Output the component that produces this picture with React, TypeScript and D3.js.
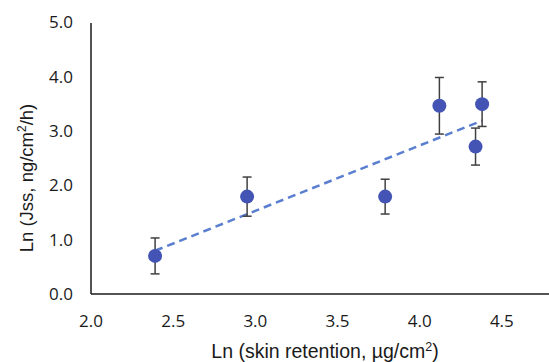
import { useEffect, useRef } from "react";
import * as d3 from "d3";

// data
const xValues = [2.39, 2.95, 3.79, 4.12, 4.38, 4.34];
const yValues = [0.7, 1.79, 1.79, 3.46, 3.49, 2.71];
const yErrors = [0.33, 0.36, 0.32, 0.52, 0.41, 0.34];
const xTicks = [2.0, 2.5, 3.0, 3.5, 4.0, 4.5];
const yTicks = [0.0, 1.0, 2.0, 3.0, 4.0, 5.0];

const ScatterChart = () => {
  const svgRef = useRef<SVGSVGElement>(null);

  useEffect(() => {
    if (!svgRef.current) return;

    const width = 549;

    const svg = d3.select(svgRef.current);
    svg.selectAll("*").remove();

    const x = d3.scaleLinear().domain([2, 5]).range([91, 584]);
    const y = d3.scaleLinear().domain([0, 5]).range([294, 22]);

    const points = xValues.map((v, i) => ({ x: v, y: yValues[i], e: yErrors[i] }));

    // y tick labels
    svg
      .append("g")
      .selectAll("text")
      .data(yTicks)
      .join("text")
      .attr("x", 73)
      .attr("y", (d) => y(d))
      .attr("dy", "0.36em")
      .attr("text-anchor", "end")
      .style("font", "17px 'Open Sans'")
      .attr("fill", "#1a1a1a")
      .text((d) => d.toFixed(1));

    // x tick labels
    svg
      .append("g")
      .selectAll("text")
      .data(xTicks)
      .join("text")
      .attr("x", (d) => x(d))
      .attr("y", 327)
      .attr("text-anchor", "middle")
      .style("font", "17px 'Open Sans'")
      .attr("fill", "#1a1a1a")
      .text((d) => d.toFixed(1));

    // axes lines
    svg
      .append("line")
      .attr("x1", x(2))
      .attr("x2", width)
      .attr("y1", y(0))
      .attr("y2", y(0))
      .attr("stroke", "#1a1a1a")
      .attr("stroke-width", 1.5);
    svg
      .append("line")
      .attr("x1", x(2))
      .attr("x2", x(2))
      .attr("y1", y(0))
      .attr("y2", y(5) + 1)
      .attr("stroke", "#1a1a1a")
      .attr("stroke-width", 1.5);

    // linear trendline
    const mx = d3.mean(xValues)!;
    const my = d3.mean(yValues)!;
    const slope =
      d3.sum(xValues, (v, i) => (v - mx) * (yValues[i] - my)) /
      d3.sum(xValues, (v) => (v - mx) ** 2);
    const intercept = my - slope * mx;
    const [xMin, xMax] = d3.extent(xValues) as [number, number];
    svg
      .append("line")
      .attr("x1", x(xMin))
      .attr("y1", y(intercept + slope * xMin))
      .attr("x2", x(xMax))
      .attr("y2", y(intercept + slope * xMax))
      .attr("stroke", "#5b7fd0")
      .attr("stroke-width", 2.5)
      .attr("stroke-dasharray", "8,5");

    // error bars
    const err = svg.append("g").attr("stroke", "#404040").attr("stroke-width", 1.5);
    points.forEach((p) => {
      const cx = x(p.x);
      err.append("line").attr("x1", cx).attr("x2", cx).attr("y1", y(p.y - p.e)).attr("y2", y(p.y + p.e));
      [p.y - p.e, p.y + p.e].forEach((v) => {
        err.append("line").attr("x1", cx - 4.5).attr("x2", cx + 4.5).attr("y1", y(v)).attr("y2", y(v));
      });
    });

    // points
    svg
      .append("g")
      .selectAll("circle")
      .data(points)
      .join("circle")
      .attr("cx", (d) => x(d.x))
      .attr("cy", (d) => y(d.y))
      .attr("r", 7)
      .attr("fill", "#4354b5");

    // axis titles
    const xTitle = svg
      .append("text")
      .attr("x", 325)
      .attr("y", 358)
      .attr("text-anchor", "middle")
      .style("font", "19.5px 'Liberation Sans', Arial")
      .attr("fill", "#1a1a1a");
    xTitle.append("tspan").text("Ln (skin retention, µg/cm");
    xTitle.append("tspan").attr("dy", -7).style("font-size", "12.5px").text("2");
    xTitle.append("tspan").attr("dy", 7).text(")");

    const yTitle = svg
      .append("text")
      .attr("transform", "translate(33,178) rotate(-90)")
      .attr("text-anchor", "middle")
      .style("font", "18.5px 'Liberation Sans', Arial")
      .attr("fill", "#1a1a1a");
    yTitle.append("tspan").text("Ln (Jss, ng/cm");
    yTitle.append("tspan").attr("dy", -7).style("font-size", "12px").text("2");
    yTitle.append("tspan").attr("dy", 7).text("/h)");
  }, []);

  return (
    <svg
      ref={svgRef}
      width={549}
      height={362}
      style={{ position: "absolute", left: 0, top: 0, background: "#fff" }}
    ></svg>
  );
};

export default function App() {
  return <ScatterChart />;
}
